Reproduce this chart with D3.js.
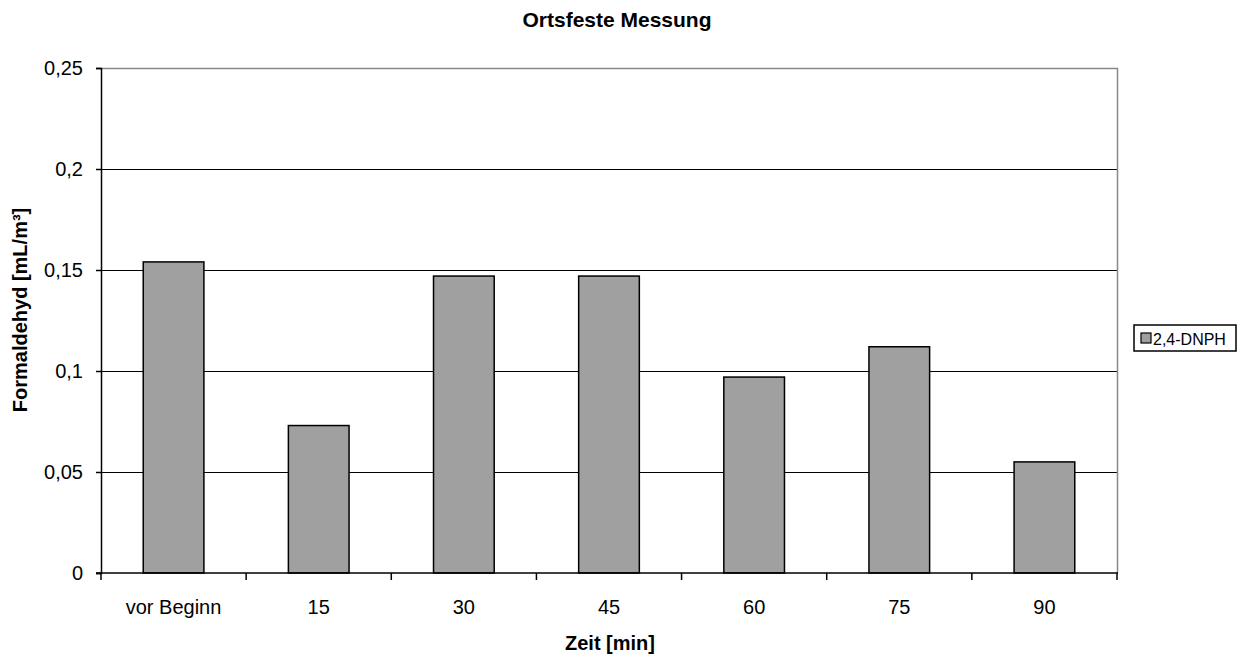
<!DOCTYPE html>
<html>
<head>
<meta charset="utf-8">
<script src="https://cdn.jsdelivr.net/npm/d3@7/dist/d3.min.js"></script>
<style>
  html, body { margin: 0; padding: 0; background: #fff; }
  svg { display: block; font-family: "Liberation Sans", Arial, sans-serif; }
</style>
</head>
<body>
<svg id="chart" width="1244" height="657"></svg>
<script>
// Formaldehyde readings at a fixed measuring point
const categories = ["vor Beginn", "15", "30", "45", "60", "75", "90"];
const dnphValues = [0.154, 0.073, 0.147, 0.147, 0.097, 0.112, 0.055];
const yTicks = [0, 0.05, 0.1, 0.15, 0.2, 0.25];
const yTickLabels = ["0", "0,05", "0,1", "0,15", "0,2", "0,25"];
const seriesName = "2,4-DNPH";

const svg = d3.select("#chart");
const plot = { left: 101, right: 1117, top: 68, bottom: 573 };

const x = d3.scaleBand()
  .domain(categories)
  .range([plot.left, plot.right])
  .paddingInner(0.582)
  .paddingOuter(0.291);

const xBands = d3.scaleBand()
  .domain(categories)
  .range([plot.left, plot.right])
  .padding(0);

const y = d3.scaleLinear().domain([0, 0.25]).range([plot.bottom, plot.top]);

// title
svg.append("text")
  .attr("x", 617).attr("y", 27)
  .attr("text-anchor", "middle")
  .attr("font-size", 21).attr("font-weight", "bold")
  .text("Ortsfeste Messung");

// gridlines
svg.append("g").selectAll("line")
  .data(yTicks.filter(d => d > 0 && d < 0.25))
  .join("line")
  .attr("x1", plot.left).attr("x2", plot.right)
  .attr("y1", d => Math.round(y(d)) + 0.5).attr("y2", d => Math.round(y(d)) + 0.5)
  .attr("stroke", "#000").attr("stroke-width", 1.2);

// top and right border of plot area
svg.append("path")
  .attr("d", `M${plot.left},${plot.top + 0.5}H${plot.right + 0.5}V${plot.bottom}`)
  .attr("fill", "none").attr("stroke", "#888").attr("stroke-width", 1.5);

// bars
svg.append("g").selectAll("rect")
  .data(dnphValues)
  .join("rect")
  .attr("x", (d, i) => x(categories[i]))
  .attr("y", d => y(d))
  .attr("width", x.bandwidth())
  .attr("height", d => y(0) - y(d))
  .attr("fill", "#a0a0a0")
  .attr("stroke", "#000").attr("stroke-width", 1.5);

// y axis
const yAxis = d3.axisLeft(y)
  .tickValues(yTicks)
  .tickFormat((d, i) => yTickLabels[i])
  .tickSize(5).tickPadding(13);
const gy = svg.append("g")
  .attr("transform", `translate(${plot.left},0)`)
  .call(yAxis);
gy.select(".domain").attr("stroke", "#000").attr("stroke-width", 1.5);
gy.selectAll(".tick line").attr("stroke", "#000").attr("stroke-width", 1.5);
gy.selectAll(".tick text").attr("font-size", 20).attr("fill", "#000")
  .attr("font-family", "Liberation Sans, Arial, sans-serif");

// x axis: ticks sit on the category boundaries
const gx = svg.append("g")
  .attr("transform", `translate(0,${plot.bottom})`);
gx.append("line")
  .attr("x1", plot.left - 5).attr("x2", plot.right + 1)
  .attr("y1", 0).attr("y2", 0)
  .attr("stroke", "#000").attr("stroke-width", 1.5);
const boundaries = categories.map(c => xBands(c)).concat([plot.right]);
gx.selectAll("line.tick")
  .data(boundaries)
  .join("line")
  .attr("class", "tick")
  .attr("x1", d => d).attr("x2", d => d)
  .attr("y1", 0).attr("y2", 7)
  .attr("stroke", "#000").attr("stroke-width", 1.5);
gx.selectAll("text")
  .data(categories)
  .join("text")
  .attr("x", d => xBands(d) + xBands.bandwidth() / 2)
  .attr("y", 41)
  .attr("text-anchor", "middle")
  .attr("font-size", 20)
  .text(d => d);

// axis titles
svg.append("text")
  .attr("x", 610).attr("y", 650)
  .attr("text-anchor", "middle")
  .attr("font-size", 20).attr("font-weight", "bold")
  .text("Zeit [min]");

svg.append("text")
  .attr("transform", "translate(27,310) rotate(-90)")
  .attr("text-anchor", "middle")
  .attr("font-size", 20).attr("font-weight", "bold")
  .text("Formaldehyd [mL/m³]");

// legend
const legend = svg.append("g").attr("transform", "translate(1134,325)");
legend.append("rect")
  .attr("width", 102).attr("height", 26)
  .attr("fill", "#fff").attr("stroke", "#000").attr("stroke-width", 1.5);
legend.append("rect")
  .attr("x", 7).attr("y", 8).attr("width", 10).attr("height", 10)
  .attr("fill", "#a0a0a0").attr("stroke", "#000").attr("stroke-width", 1.2);
legend.append("text")
  .attr("x", 19).attr("y", 20)
  .attr("font-size", 16)
  .text(seriesName);
</script>
</body>
</html>
